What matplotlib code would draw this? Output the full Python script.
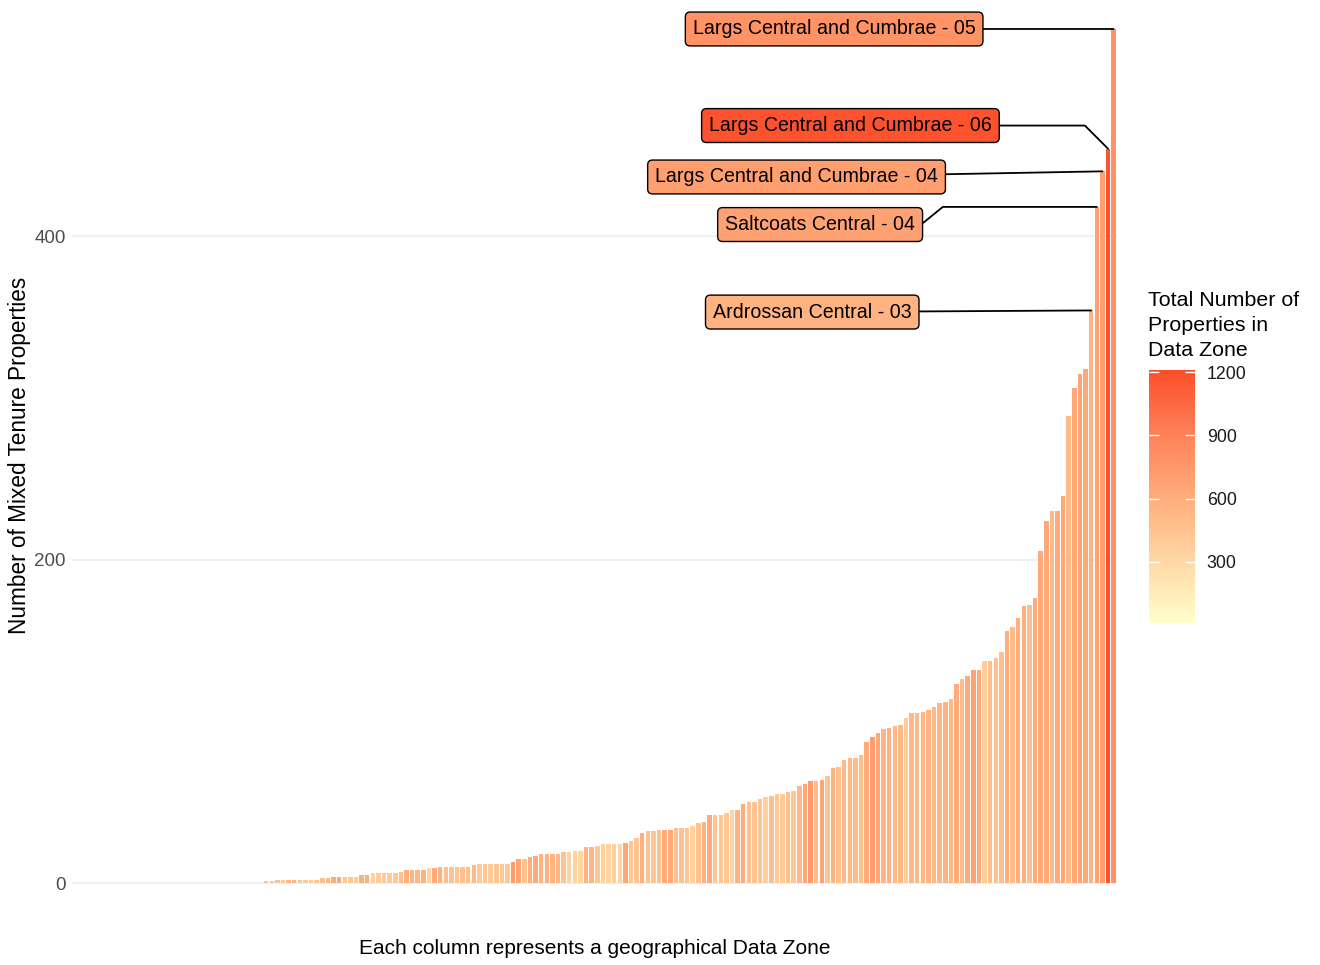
import numpy as np
import matplotlib.pyplot as plt
from matplotlib.colors import LinearSegmentedColormap, Normalize

plt.rcParams['font.family'] = ['Liberation Sans', 'DejaVu Sans']

# mixed tenure properties per data zone, sorted ascending
mixed_tenure = [
    0, 0, 0, 0, 0, 0, 0, 0, 0, 0, 0, 0, 0, 0, 0, 0, 0, 0, 0, 0,
    0, 0, 0, 0, 0, 0, 0, 0, 0, 0, 0, 0, 0, 0,
    1, 1, 2, 2, 2, 2, 2, 2, 2, 2, 3, 3, 4, 4, 4, 4, 4, 5, 5,
    6, 6, 6, 6, 6, 7, 8, 8, 8, 8, 9, 9, 10,
    10, 10, 10, 10, 10, 11, 12, 12, 12, 12, 12, 12, 13, 15, 15, 16, 17, 18,
    18, 18, 18, 19, 19, 20, 20, 22, 22, 23, 24, 24, 24, 24, 25, 26, 28,
    31, 32, 32, 33, 33, 33, 34, 34, 34, 35, 37, 38, 42, 42, 42, 43, 45, 45,
    49, 50, 50, 52, 53, 54, 55, 55, 56, 57, 60, 61, 63, 63, 64, 66, 71,
    72, 76, 77, 77, 79, 87, 90, 93, 95, 96, 97, 98, 102, 105, 105, 106, 107,
    109, 111, 112, 114, 123, 126, 128, 132, 132, 137, 137,
    139, 143, 156, 158, 164, 171, 172, 176, 205, 224, 230, 230, 239, 289,
    306, 315, 318, 354, 418, 440, 454, 528,
]

# total number of properties in each data zone (same order)
total_props = [
    320, 410, 380, 450, 290, 360, 420, 510, 330, 370, 440, 300, 390, 350,
    460, 410, 280, 370, 430, 340, 390, 500, 360, 310, 420, 380, 450, 330,
    400, 360, 290, 420, 370, 400,
    420, 400, 450, 430, 550, 560, 430, 420, 380, 440, 470, 520, 620,
    640, 420, 430, 400, 580, 600, 350, 380, 400, 390, 420, 470, 590, 560,
    540, 580, 330, 620, 570,
    480, 450, 430, 460, 470, 520, 400, 420, 380, 440, 400, 410, 720, 660,
    460, 600, 620, 560, 570, 550, 540, 450, 340, 330, 320, 560, 540, 420,
    350, 340, 360, 330, 640, 430, 440,
    600, 460, 440, 450, 620, 640, 470, 460, 440, 350, 460, 560, 620, 440,
    430, 420, 330, 560, 610, 470, 450, 430, 360, 480, 420, 400, 470, 440,
    520, 640, 720, 480, 660, 450, 560,
    460, 520, 530, 510, 480, 620, 720, 640, 540, 560, 530, 520, 380, 520,
    510, 540, 550, 520, 540, 560, 530, 610, 500, 620, 680, 630, 380, 480,
    470, 480, 600, 500, 580, 600, 480, 620, 620, 630, 520, 620, 640, 520,
    640, 660, 640, 560, 680, 700, 1180, 780,
]

label_names = ['Largs Central and Cumbrae - 05', 'Largs Central and Cumbrae - 06',
               'Largs Central and Cumbrae - 04', 'Saltcoats Central - 04',
               'Ardrossan Central - 03']
label_rank = [185, 184, 183, 182, 181]

# label box positions (x in bar units, y in data units) and connector styles
label_pos = [(135.2, 528), (138.1, 468.3), (128.5, 436.5), (132.7, 407.1), (131.3, 353.0)]
label_conn = ['arc3,rad=0', 'angle,angleA=0,angleB=135,rad=0', 'arc3,rad=0',
              'arc,angleA=0,angleB=180,armA=101,armB=154,rad=0', 'arc3,rad=0']

cmap = LinearSegmentedColormap.from_list(
    'fill', ['#FFFFCC', '#FFD7A3', '#FFAC7B', '#FF8057', '#FC4E2A'])
norm = Normalize(vmin=10, vmax=1210)

fig = plt.figure(figsize=(13.2, 9.65), dpi=100)
ax = fig.add_axes([72 / 1320, 0.04135, 1045 / 1320, 0.9571])

x = np.arange(len(mixed_tenure))
ax.bar(x, mixed_tenure, width=0.8, color=cmap(norm(np.array(total_props))), zorder=2)
ax.set_xlim(-0.6, len(x) - 0.4)
ax.set_ylim(-26, 545)
ax.set_yticks([0, 200, 400])
ax.set_xticks([])
ax.grid(axis='y', color='#EBEBEB', lw=1.1, zorder=0)
for s in ax.spines.values():
    s.set_visible(False)
ax.tick_params(axis='y', length=0, pad=4.5, labelsize=13.5, labelcolor='#4D4D4D')

ax.set_ylabel('Number of Mixed Tenure Properties', fontsize=16.3, color='black')
ax.yaxis.set_label_coords(-0.039, 0.509)
ax.set_xlabel('Each column represents a geographical Data Zone', fontsize=15, color='black')
ax.xaxis.set_label_coords(0.5, -0.0153)

for name, rank, pos, conn in zip(label_names, label_rank, label_pos, label_conn):
    ax.annotate(name, xy=(rank, mixed_tenure[rank]), xytext=pos,
                ha='center', va='center', fontsize=14.1, zorder=5,
                bbox=dict(boxstyle='round,pad=0.38,rounding_size=0.25',
                          fc=cmap(norm(total_props[rank])), ec='black', lw=1),
                arrowprops=dict(arrowstyle='-', color='black', lw=1.3,
                                connectionstyle=conn, shrinkA=0, shrinkB=0))

# colourbar legend
cax = fig.add_axes([1149 / 1320, 0.3544, 46 / 1320, 0.2622])
sm = plt.cm.ScalarMappable(norm=norm, cmap=cmap)
cb = fig.colorbar(sm, cax=cax, ticks=[300, 600, 900, 1200])
cb.outline.set_visible(False)
cax.tick_params(which='both', direction='in', length=7, width=1, color='white',
                left=True, right=True, labelsize=12.8, labelcolor='#1A1A1A', pad=8.5)
cax.minorticks_off()
fig.text(1148 / 1320, 1 - 291 / 965, 'Total Number of\nProperties in\nData Zone',
         ha='left', va='top', fontsize=15.4, linespacing=1.4)

fig.savefig('out.png', dpi=100)
